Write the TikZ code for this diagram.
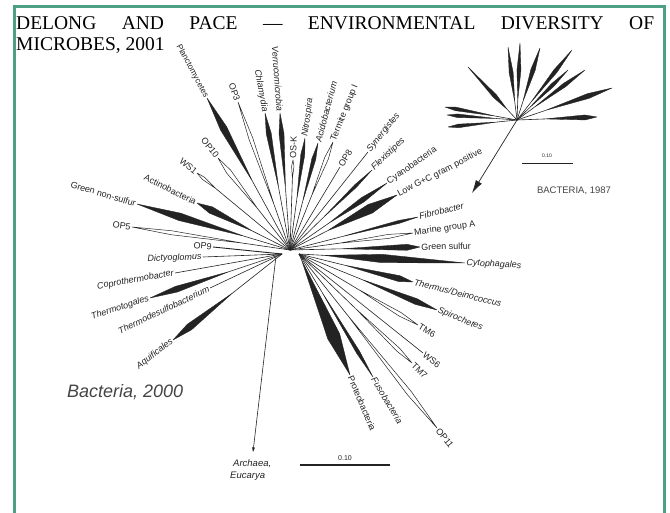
\documentclass[tikz,border=0pt]{standalone}
\usepackage{fontspec}
\setmainfont{Liberation Serif}
\newfontfamily\hv{Liberation Sans}
\usetikzlibrary{calc,arrows.meta}
\definecolor{framec}{RGB}{78,160,130}
\definecolor{ink}{RGB}{35,35,35}
\tikzset{
 stem/.style={draw=ink, line width=0.6pt},
 wedgef/.style={fill=ink, draw=ink, line width=0.35pt, line join=round},
 wedgeo/.style={draw=ink, line width=0.5pt, line join=round},
 lbl/.style={font=\hv\fontsize{9}{10}\selectfont, text=ink, inner sep=1.2pt},
}
% filled wedge: origin, tip, a, b, half-width
\newcommand\wfill[5]{%
  \coordinate (wA) at ($(#1)!#3!(#2)$);
  \coordinate (wB) at ($(#1)!#4!(#2)$);
  \draw[stem] (#1) -- (wA);
  \filldraw[wedgef] (wA) -- ($(wB)!#5pt!90:(#2)$) -- (#2) -- ($(wB)!#5pt!-90:(#2)$) -- cycle;}
\newcommand\wopen[5]{%
  \coordinate (wA) at ($(#1)!#3!(#2)$);
  \coordinate (wB) at ($(#1)!#4!(#2)$);
  \draw[stem] (#1) -- (wA);
  \draw[wedgeo] (wA) -- ($(wB)!#5pt!90:(#2)$) -- (#2) -- ($(wB)!#5pt!-90:(#2)$) -- cycle;}
\newcommand\lin[2]{\draw[stem] (#1) -- (#2);}
\newcommand\labR[4]{\path (#1) -- (#2) node[lbl,pos=1,sloped,anchor=west] (#3) {#4};}
\newcommand\labL[4]{\path (#1) -- (#2) node[lbl,pos=1,sloped,anchor=east] (#3) {#4};}
\begin{document}
\begin{tikzpicture}[x=1pt,y=-1pt]
\useasboundingbox (0,0) rectangle (670,513);
% frame
\draw[framec, line width=3pt] (14.5,513) -- (14.5,7) -- (664,7) -- (664,513);
% heading
\node[anchor=base west, inner sep=0, font=\fontsize{19.5}{21}\selectfont] (h1) at (16,30)
  {\makebox[638pt][s]{DELONG AND PACE — ENVIRONMENTAL DIVERSITY OF}};
\node[anchor=base west, inner sep=0, font=\fontsize{19.5}{21}\selectfont] (h2) at (16,51) {MICROBES, 2001};

% ---------- main tree ----------
\coordinate (C) at (290,250);
\coordinate (CL) at (282,254);
\coordinate (CR) at (299,254);
\coordinate (CA) at (276,256);

\coordinate (gns) at (137,204);
\coordinate (op5) at (132,227);
\coordinate (act) at (197,203);
\coordinate (ws1) at (197,173);
\coordinate (op10) at (218,158);
\coordinate (pla) at (207,98);
\coordinate (op3) at (238,102);
\coordinate (chl) at (265,113);
\coordinate (ver) at (280,113);
\coordinate (osk) at (293,160);
\coordinate (nit) at (305,138);
\coordinate (aci) at (318,143);
\coordinate (ter) at (333,142);
\coordinate (op8) at (340,167);
\coordinate (syn) at (368,152);
\coordinate (fle) at (372,170);
\coordinate (cya) at (387,183);
\coordinate (low) at (397,195);
\coordinate (fib) at (418,217);
\coordinate (mar) at (413,233);
\coordinate (gsu) at (420,247);
\coordinate (cyt) at (465,263);
\coordinate (the) at (413,282);
\coordinate (spi) at (437,310);
\coordinate (tm6) at (418,325);
\coordinate (ws6) at (423,353);
\coordinate (tm7) at (412,363);
\coordinate (op11) at (437,428);
\coordinate (fus) at (373,377);
\coordinate (pro) at (350,375);
\coordinate (op9) at (213,247);
\coordinate (dic) at (203,257);
\coordinate (cop) at (175,273);
\coordinate (tht) at (150,298);
\coordinate (tds) at (210,288);
\coordinate (aqu) at (173,340);
\coordinate (arc) at (253,452);

\wfill{C}{gns}{.30}{.72}{3.8}
\wopen{C}{op5}{.30}{.75}{2}
\wfill{C}{act}{.40}{.85}{3.5}
\wopen{C}{ws1}{.80}{.93}{1.5}
\wopen{C}{op10}{.45}{.85}{2.5}
\wfill{C}{pla}{.45}{.80}{3.5}
\wopen{C}{op3}{.30}{.75}{2}
\wfill{C}{chl}{.45}{.85}{2.5}
\wfill{C}{ver}{.45}{.85}{2.5}
\wopen{C}{osk}{.80}{.93}{1.2}
\wfill{C}{nit}{.45}{.85}{2}
\wfill{C}{aci}{.45}{.85}{2}
\wopen{C}{ter}{.50}{.85}{2}
\lin{C}{op8}
\lin{C}{syn}
\wfill{C}{fle}{.40}{.80}{1.5}
\wfill{C}{cya}{.40}{.75}{2.5}
\wfill{C}{low}{.35}{.75}{4.8}
\wfill{C}{fib}{.40}{.85}{1.5}
\wopen{C}{mar}{.40}{.80}{2}
\wfill{C}{gsu}{.40}{.90}{3}
\wfill{CR}{cyt}{.15}{.50}{4.2}
\wfill{CR}{the}{.40}{.88}{3}
\wfill{CR}{spi}{.45}{.85}{3}
\wopen{CR}{tm6}{.50}{.85}{2}
\lin{CR}{ws6}
\wopen{CR}{tm7}{.50}{.88}{2}
\wopen{CR}{op11}{.35}{.80}{2.5}
\wfill{CR}{fus}{.30}{.80}{1.8}
\wfill{CR}{pro}{.05}{.68}{6.5}
\draw[stem, line width=0.9pt] (CL) -- (op9);
\lin{CL}{dic}
\lin{CL}{cop}
\wfill{CL}{tht}{.40}{.80}{3}
\lin{CL}{tds}
\wfill{CL}{aqu}{.45}{.85}{3.5}
\draw[stem, -{Stealth[length=5pt,width=3pt]}] (CA) -- (arc);

% labels
\labL{C}{gns}{Lgns}{Green non-sulfur}
\labL{C}{op5}{Lop5}{OP5}
\labL{C}{act}{Lact}{Actinobacteria}
\labL{C}{ws1}{Lws1}{WS1}
\labL{C}{op10}{Lop10}{OP10}
\labL{C}{pla}{Lpla}{\fontsize{8.3}{9}\selectfont Planctomycetes}
\labL{C}{op3}{Lop3}{OP3}
\labL{C}{chl}{Lchl}{\itshape Chlamydia}
\labL{C}{ver}{Lver}{\itshape Verrucomicrobia}
\labR{C}{osk}{Losk}{OS-K}
\labR{C}{nit}{Lnit}{\itshape Nitrospira}
\labR{C}{aci}{Laci}{\itshape Acidobacterium}
\labR{C}{ter}{Lter}{Termite group I}
\labR{C}{op8}{Lop8}{OP8}
\labR{C}{syn}{Lsyn}{\itshape Synergistes}
\labR{C}{fle}{Lfle}{\itshape Flexistipes}
\labR{C}{cya}{Lcya}{Cyanobacteria}
\labR{C}{low}{Llow}{Low G+C gram positive}
\labR{C}{fib}{Lfib}{\itshape Fibrobacter}
\labR{C}{mar}{Lmar}{Marine group A}
\labR{C}{gsu}{Lgsu}{Green sulfur}
\labR{CR}{cyt}{Lcyt}{\itshape Cytophagales}
\labR{CR}{the}{Lthe}{\itshape Thermus/Deinococcus}
\labR{CR}{spi}{Lspi}{\itshape Spirochetes}
\labR{CR}{tm6}{Ltm6}{TM6}
\labR{CR}{ws6}{Lws6}{WS6}
\labR{CR}{tm7}{Ltm7}{TM7}
\labR{CR}{op11}{Lop11}{OP11}
\labR{CR}{fus}{Lfus}{\itshape Fusobacteria}
\labR{CR}{pro}{Lpro}{Proteobacteria}
\labL{CL}{op9}{Lop9}{OP9}
\labL{CL}{dic}{Ldic}{\itshape Dictyoglomus}
\labL{CL}{cop}{Lcop}{\itshape Coprothermobacter}
\labL{CL}{tht}{Ltht}{\itshape Thermotogales}
\labL{CL}{tds}{Ltds}{\itshape Thermodesulfobacterium}
\labL{CL}{aqu}{Laqu}{\itshape Aquificales}

\node[lbl, font=\hv\fontsize{9.5}{11}\selectfont, anchor=base west, inner sep=0] (Larc) at (233,466) {\itshape Archaea,};
\node[lbl, font=\hv\fontsize{9.5}{11}\selectfont, anchor=base west, inner sep=0] (Leuc) at (230,478) {\itshape Eucarya};

% scale bar
\coordinate (sb1) at (300,465);
\coordinate (sb2) at (390,465);
\draw[ink, line width=1.2pt] (sb1) -- (sb2);
\node[font=\hv\fontsize{7}{8}\selectfont, text=ink, anchor=base] (sbl) at (345,460) {0.10};

\node[font=\hv\itshape\fontsize{18}{20}\selectfont, text=ink!85, anchor=base west, inner sep=0] (b2000) at (67,397) {Bacteria, 2000};

% ---------- inset 1987 ----------
\coordinate (I) at (517,120);
\coordinate (i1) at (508,47);
\coordinate (i2) at (520,43);
\coordinate (i3) at (540,48);
\coordinate (i4) at (468,67);
\coordinate (i5) at (572,50);
\coordinate (i6) at (568,70);
\coordinate (i7) at (585,70);
\coordinate (i8) at (612,88);
\coordinate (i9) at (597,117);
\coordinate (i10) at (445,107);
\coordinate (i11) at (447,115);
\coordinate (i12) at (448,127);
\coordinate (iarr) at (472,193);
\wfill{I}{i1}{.25}{.65}{2}
\wfill{I}{i2}{.25}{.65}{2}
\wfill{I}{i3}{.25}{.70}{2.2}
\wfill{I}{i4}{.20}{.45}{2}
\wfill{I}{i5}{.25}{.70}{2}
\wfill{I}{i6}{.25}{.70}{1.8}
\wfill{I}{i7}{.25}{.70}{2}
\wfill{I}{i8}{.30}{.75}{2.5}
\wfill{I}{i9}{.35}{.85}{2.5}
\wfill{I}{i10}{.30}{.85}{1.8}
\wfill{I}{i11}{.30}{.85}{1.8}
\wfill{I}{i12}{.30}{.85}{1.8}
\draw[stem, line width=0.7pt, -{Latex[length=13pt,width=7pt]}] (I) -- (iarr);
\coordinate (is1) at (522,163);
\coordinate (is2) at (573,163);
\draw[ink, line width=0.8pt] (is1) -- (is2);
\node[font=\hv\fontsize{5}{6}\selectfont, text=ink, anchor=base] (isl) at (547,158) {0.10};
\node[font=\hv\fontsize{9.5}{11}\selectfont, text=ink!85, anchor=base] (b1987) at (574,194) {BACTERIA, 1987};
\end{tikzpicture}
\end{document}
